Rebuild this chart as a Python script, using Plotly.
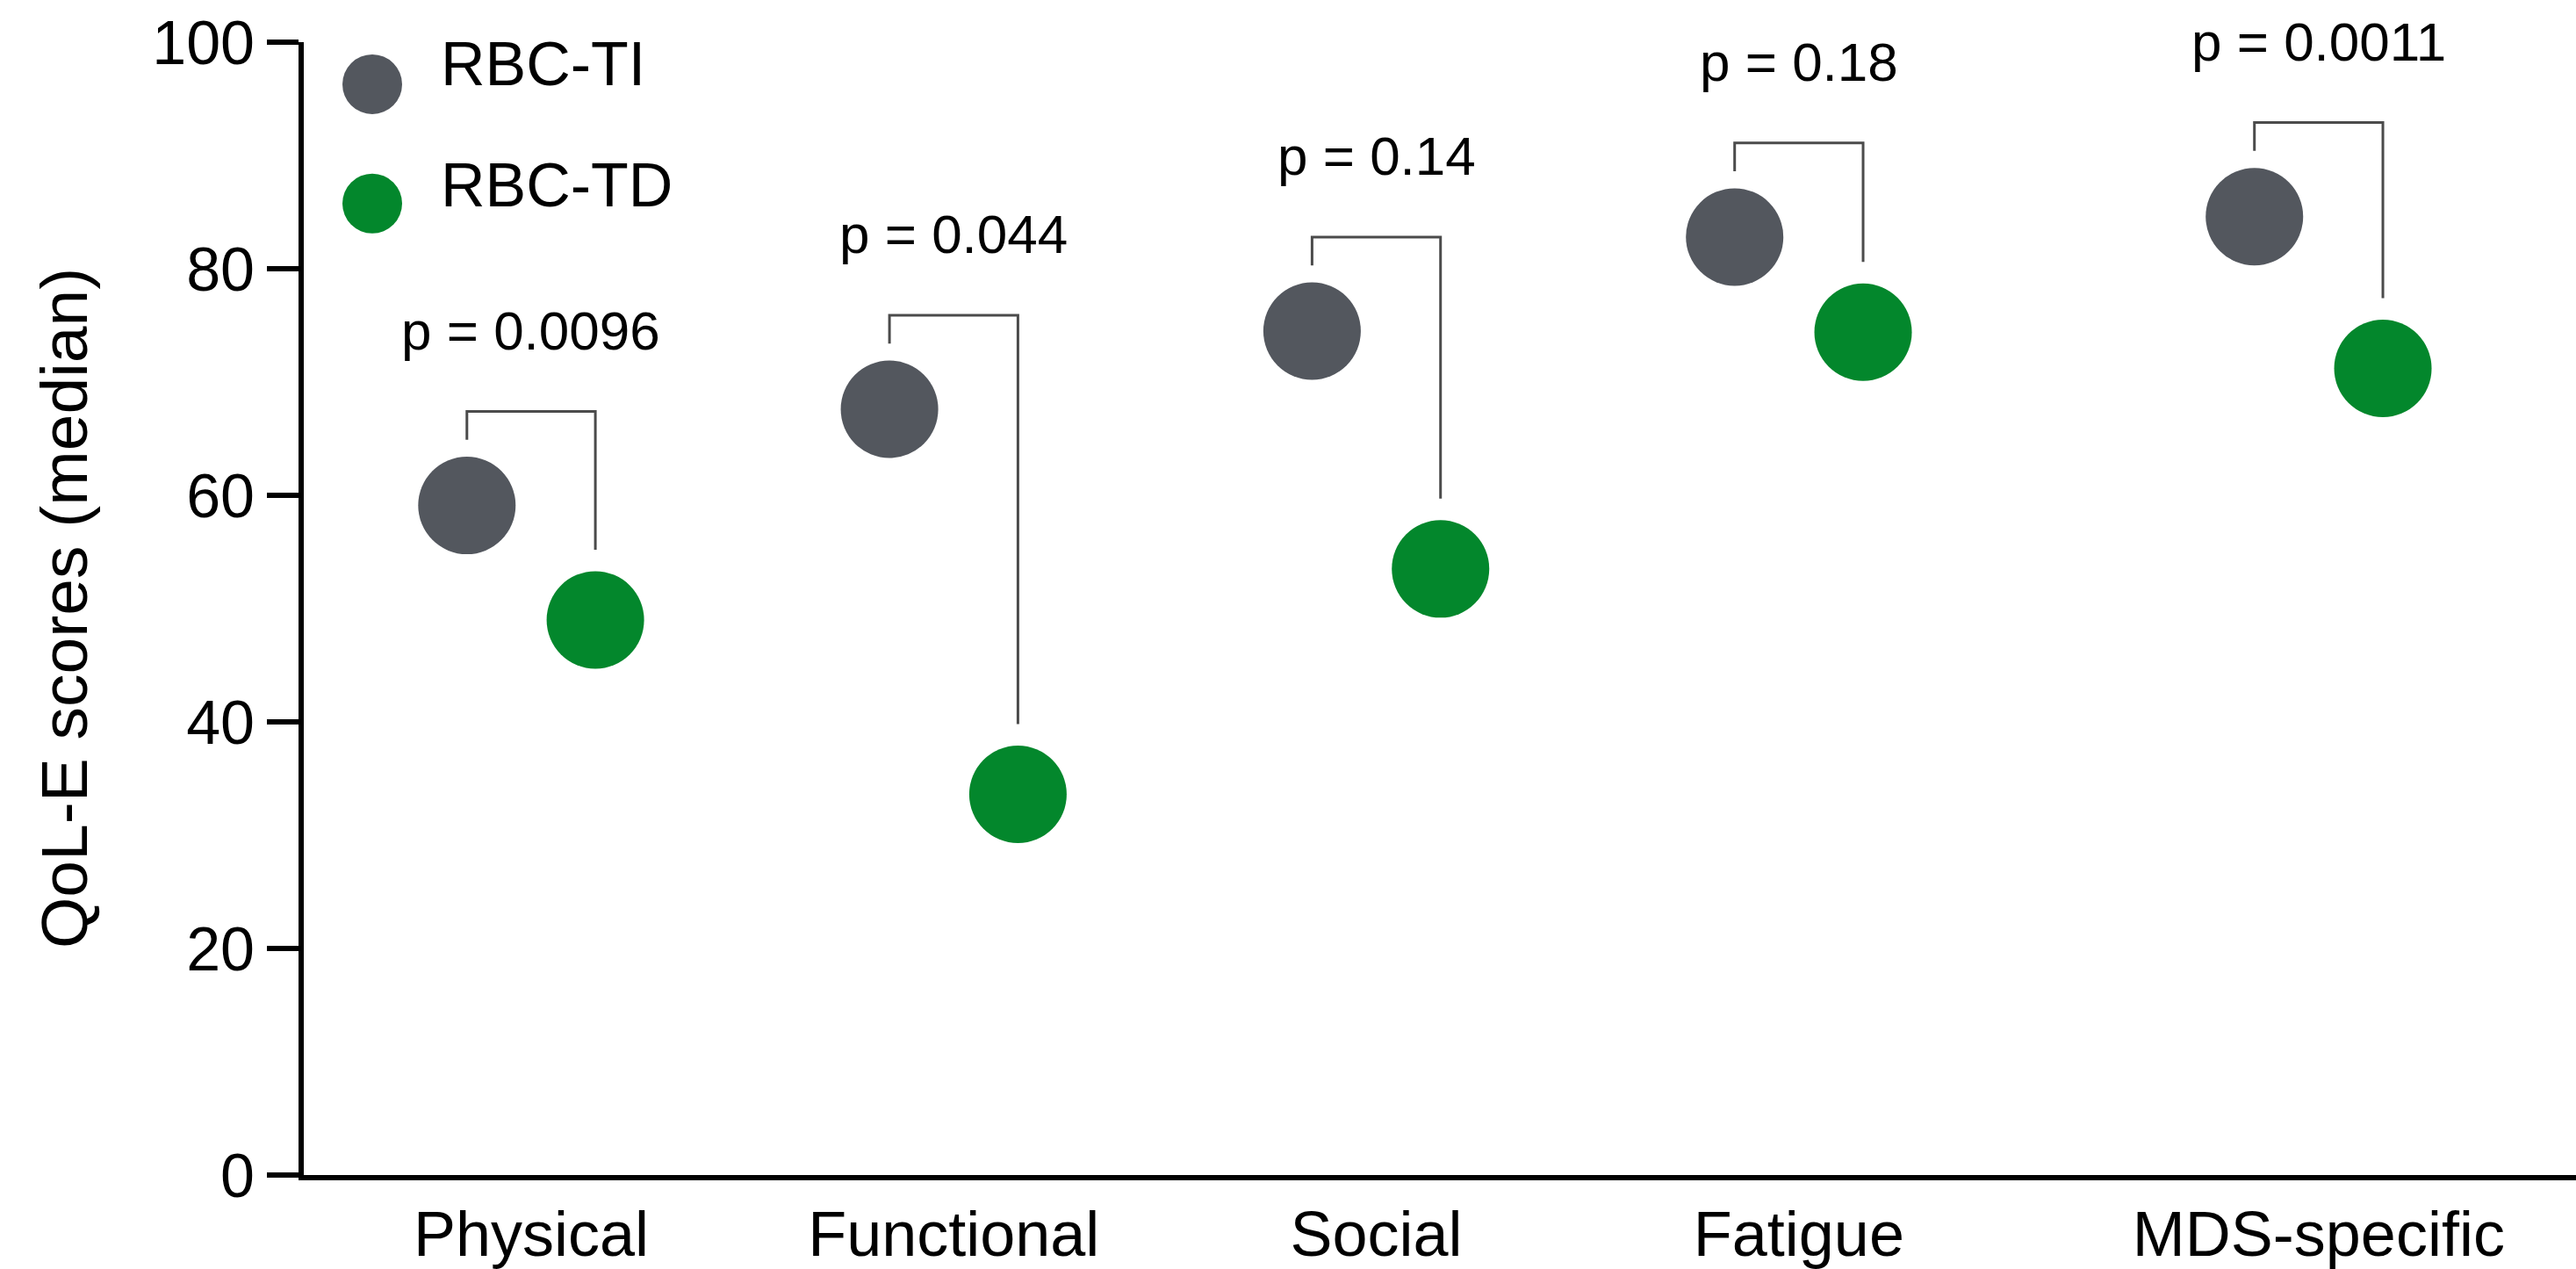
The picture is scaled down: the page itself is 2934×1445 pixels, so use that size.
import plotly.graph_objects as go

# ---- data ----
categories = ["Physical", "Functional", "Social", "Fatigue", "MDS-specific"]
rbc_ti = [59.1, 67.6, 74.5, 82.8, 84.6]
rbc_td = [49.0, 33.6, 53.5, 74.4, 71.2]
p_labels = ["p = 0.0096", "p = 0.044", "p = 0.14", "p = 0.18", "p = 0.0011"]
y_ticks = [0, 20, 40, 60, 80, 100]
series_names = ["RBC-TI", "RBC-TD"]

# ---- layout constants ----
CAT_X = [0, 1, 2, 3, 4.23]
PAIR_OFF = 0.152
TI_COLOR = "#53575e"
TD_COLOR = "#03872c"
BRACKET_COLOR = "#4b4b4b"
FONT = "Liberation Sans, Arial, sans-serif"

W, H = 2934, 1445
ML, MR, MT, MB = 346, 0, 48, 105
PW, PH = W - ML - MR, H - MT - MB

x_ti = [c - PAIR_OFF for c in CAT_X]
x_td = [c + PAIR_OFF for c in CAT_X]

fig = go.Figure()

# brackets
ann = []
for i in range(len(categories)):
    top = max(rbc_ti[i], rbc_td[i]) + 8.3
    fig.add_trace(go.Scatter(
        x=[x_ti[i], x_ti[i], x_td[i], x_td[i]],
        y=[rbc_ti[i] + 5.8, top, top, rbc_td[i] + 6.2],
        mode="lines", line=dict(color=BRACKET_COLOR, width=3),
        showlegend=False, hoverinfo="skip"))
    ann.append(dict(x=CAT_X[i], y=top + 4.3, xref="x", yref="y",
                    text=p_labels[i], showarrow=False,
                    xanchor="center", yanchor="bottom",
                    font=dict(family=FONT, size=62, color="black")))

fig.add_trace(go.Scatter(x=x_ti, y=rbc_ti, mode="markers", name=series_names[0],
                         marker=dict(size=111, color=TI_COLOR, line=dict(width=0)),
                         showlegend=False))
fig.add_trace(go.Scatter(x=x_td, y=rbc_td, mode="markers", name=series_names[1],
                         marker=dict(size=111, color=TD_COLOR, line=dict(width=0)),
                         showlegend=False))

# custom legend
shapes = []
leg_items = [(series_names[0], TI_COLOR, 96, 73), (series_names[1], TD_COLOR, 232, 211)]
for name, col, cy_px, ty_px in leg_items:
    cx = (424 - ML) / PW
    cy = (H - MB - cy_px) / PH
    shapes.append(dict(type="circle", xref="paper", yref="paper",
                       xsizemode="pixel", ysizemode="pixel",
                       xanchor=cx, yanchor=cy, x0=-34, x1=34, y0=-34, y1=34,
                       fillcolor=col, line=dict(width=0)))
    ann.append(dict(x=(500 - ML) / PW, y=(H - MB - ty_px) / PH, xref="paper", yref="paper",
                    text=name, showarrow=False, xanchor="left", yanchor="middle",
                    font=dict(family=FONT, size=70, color="black")))

# y-axis title
ann.append(dict(x=(73 - ML) / PW, y=0.5, xref="paper", yref="paper",
                text="QoL-E scores (median)", textangle=-90, showarrow=False,
                xanchor="center", yanchor="middle",
                font=dict(family=FONT, size=75, color="black")))

fig.update_layout(
    width=W, height=H,
    margin=dict(l=ML, r=MR, t=MT, b=MB, pad=0),
    paper_bgcolor="white", plot_bgcolor="white",
    font=dict(family=FONT, color="black"),
    shapes=shapes, annotations=ann,
    xaxis=dict(range=[-0.538, 4.839], tickvals=CAT_X, ticktext=categories,
               showline=True, linewidth=6, linecolor="black", ticks="",
               showgrid=False, zeroline=False,
               tickfont=dict(family=FONT, size=72, color="black")),
    yaxis=dict(range=[0, 100], tickvals=y_ticks, showline=True, linewidth=6,
               linecolor="black", ticks="outside", ticklen=36, tickwidth=6,
               tickcolor="black", showgrid=False, zeroline=False,
               tickfont=dict(family=FONT, size=70, color="black")),
)

fig.write_html("out.html")
